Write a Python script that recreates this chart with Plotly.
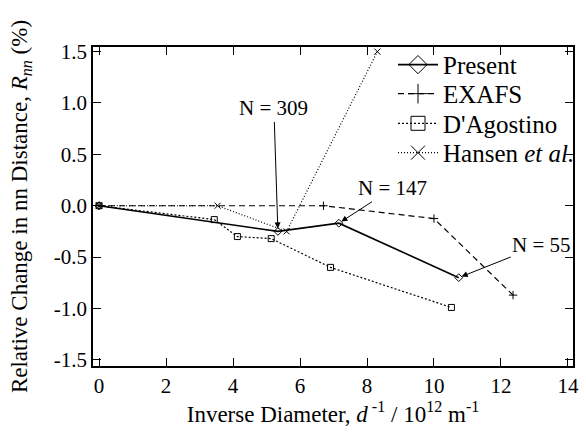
import plotly.graph_objects as go

# ---- data ----
present_x = [0.0, 5.34, 7.16, 10.74]
present_y = [0.0, -0.25, -0.17, -0.70]

exafs_x = [0.0, 6.7, 10.0, 12.36]
exafs_y = [0.0, 0.0, -0.125, -0.87]

dago_x = [0.0, 3.44, 4.13, 5.14, 6.91, 10.52]
dago_y = [0.0, -0.135, -0.30, -0.32, -0.60, -0.99]

hansen_x = [0.0, 3.54, 5.6, 8.31]
hansen_y = [0.0, 0.0, -0.25, 1.50]

x_ticks = [0, 2, 4, 6, 8, 10, 12, 14]
x_ticktext = ["0", "2", "4", "6", "8", "10", "12", "14"]
y_ticks = [-1.5, -1.0, -0.5, 0.0, 0.5, 1.0, 1.5]
y_ticktext = ["-1.5", "-1.0", "-0.5", "0.0", "0.5", "1.0", "1.5"]

labels = ["N = 309", "N = 147", "N = 55"]
label_pts = [(5.34, -0.25), (7.16, -0.17), (10.74, -0.70)]
label_offsets = [(-4, -123), (54, -35), (83, -33)]

FONT = "Liberation Serif, Times New Roman, serif"
BLK = "black"

series = [
    ("Present", present_x, present_y, "solid", 1.6, "diamond-open"),
    ("EXAFS", exafs_x, exafs_y, "6px,4px", 1.2, "cross-thin-open"),
    ("D'Agostino", dago_x, dago_y, "2px,2px", 1.2, "square-open"),
    ("Hansen <i>et al.</i>", hansen_x, hansen_y, "1px,2px", 1.2, "x-thin-open"),
]
legend_ids = ["legend", "legend2", "legend3", "legend4"]
legend_y = [0.944, 0.853, 0.760, 0.668]

fig = go.Figure()
for i, (name, xs, ys, dash, w, sym) in enumerate(series):
    fig.add_trace(go.Scatter(
        x=xs, y=ys, mode="lines+markers", showlegend=False,
        line=dict(color=BLK, width=w, dash=dash),
        marker=dict(symbol=sym, size=6, color=BLK, line=dict(width=1, color=BLK)),
        cliponaxis=False,
    ))
for i, (name, xs, ys, dash, w, sym) in enumerate(series):
    fig.add_trace(go.Scatter(
        x=[None], y=[None], mode="lines+markers", name=name,
        legend=legend_ids[i],
        line=dict(color=BLK, width=w, dash=dash),
        marker=dict(symbol=sym, size=14, color=BLK, line=dict(width=1, color=BLK)),
    ))

for txt, (px, py), (ax, ay) in zip(labels, label_pts, label_offsets):
    fig.add_annotation(
        x=px, y=py, xref="x", yref="y", text=txt,
        showarrow=True, ax=ax, ay=ay, axref="pixel", ayref="pixel",
        arrowhead=2, arrowsize=1.2, arrowwidth=1, arrowcolor=BLK, standoff=3,
        font=dict(family=FONT, size=21, color=BLK),
    )

axis_common = dict(
    showline=True, linecolor=BLK, linewidth=1.5, mirror="ticks",
    ticks="inside", ticklen=8, tickwidth=1.2, tickcolor=BLK,
    showgrid=False, zeroline=False, automargin=False,
    tickfont=dict(family=FONT, size=21, color=BLK),
)

fig.update_xaxes(
    range=[-0.18, 14.15], tickvals=x_ticks, ticktext=x_ticktext,
    title=dict(text="Inverse Diameter, <i>d</i><sup> -1</sup> / 10<sup>12</sup> m<sup>-1</sup>",
               font=dict(family=FONT, size=23, color=BLK), standoff=5),
    **axis_common,
)
fig.update_yaxes(
    range=[-1.56, 1.545], tickvals=y_ticks, ticktext=y_ticktext,
    title=dict(text="Relative Change in nn Distance, <i>R</i><sub><i>nn</i></sub> (%)",
               font=dict(family=FONT, size=23, color=BLK), standoff=20),
    **axis_common,
)

leg_common = dict(
    x=0.625, xanchor="left", yanchor="middle",
    bgcolor="rgba(0,0,0,0)", borderwidth=0,
    font=dict(family=FONT, size=25, color=BLK),
    itemwidth=40,
)
layout_legends = {lid: dict(y=ly, **leg_common) for lid, ly in zip(legend_ids, legend_y)}

fig.update_layout(
    width=586, height=432,
    margin=dict(l=93, r=6, t=47, b=66),
    paper_bgcolor="white", plot_bgcolor="white",
    font=dict(family=FONT, size=21, color=BLK),
    **layout_legends,
)

fig.write_html(
    "out.html",
    config={"displayModeBar": False},
    post_script="document.body.style.margin='0';document.body.style.overflow='hidden';",
)
